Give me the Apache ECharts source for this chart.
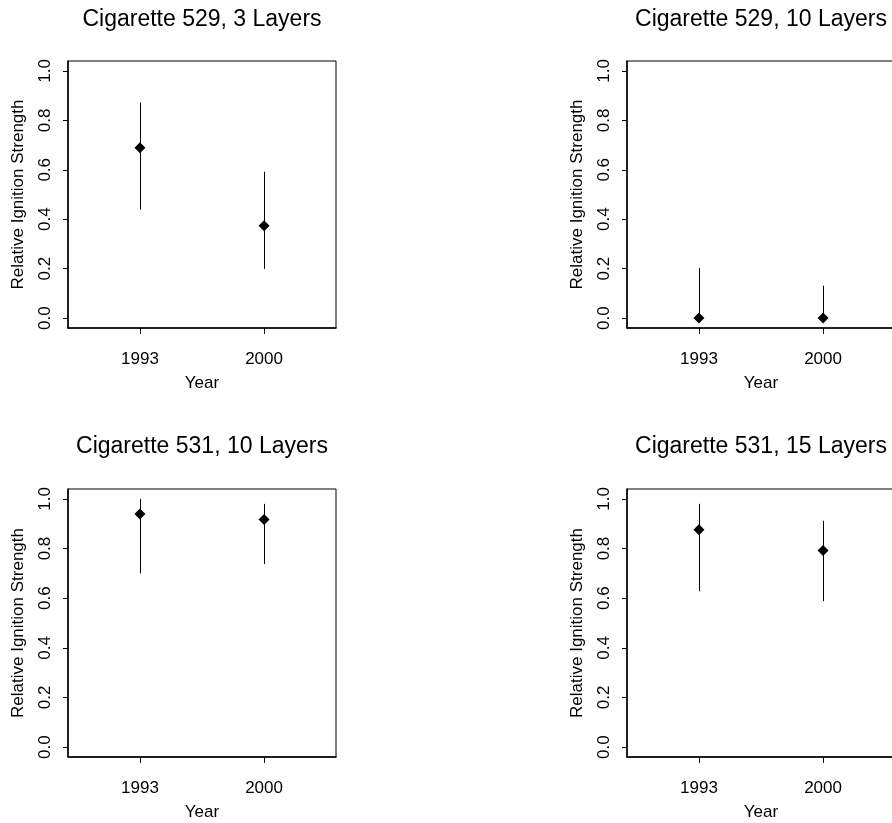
<!DOCTYPE html>
<html>
<head>
<meta charset="utf-8">
<script src="https://cdn.jsdelivr.net/npm/echarts@6/dist/echarts.min.js"></script>
<style>
html,body{margin:0;padding:0;background:#fff;}
#chart{width:892px;height:823px;}
</style>
</head>
<body>
<div id="chart"></div>
<script>
// ---- data ----
const years = ['1993', '2000'];
const yTicks = [0, 0.2, 0.4, 0.6, 0.8, 1.0];
const panelTitles = ['Cigarette 529, 3 Layers', 'Cigarette 529, 10 Layers', 'Cigarette 531, 10 Layers', 'Cigarette 531, 15 Layers'];

const est529_3 = [0.689, 0.374];
const lo529_3  = [0.439, 0.199];
const hi529_3  = [0.872, 0.592];

const est529_10 = [0.0, 0.0];
const lo529_10  = [0.0, 0.0];
const hi529_10  = [0.203, 0.131];

const est531_10 = [0.939, 0.917];
const lo531_10  = [0.700, 0.738];
const hi531_10  = [1.0, 0.980];

const est531_15 = [0.876, 0.792];
const lo531_15  = [0.628, 0.588];
const hi531_15  = [0.980, 0.912];

const panels = [
  {est: est529_3, lo: lo529_3, hi: hi529_3},
  {est: est529_10, lo: lo529_10, hi: hi529_10},
  {est: est531_10, lo: lo531_10, hi: hi531_10},
  {est: est531_15, lo: lo531_15, hi: hi531_15}
];

// ---- layout ----
const FONT = "'Liberation Sans', Arial, Helvetica, sans-serif";
const gridDefs = [
  {left: 68, top: 61, width: 268, height: 267},
  {left: 627, top: 61, width: 268, height: 267},
  {left: 68, top: 489, width: 268, height: 268},
  {left: 627, top: 489, width: 268, height: 268}
];
const titleTops = [8, 8, 435, 435];

const chart = echarts.init(document.getElementById('chart'), null, {renderer: 'canvas'});

const grids = [], xAxes = [], yAxes = [], series = [], titles = [];
gridDefs.forEach((g, i) => {
  grids.push({left: g.left, top: g.top, width: g.width, height: g.height, show: true,
    borderColor: '#000', borderWidth: 1, backgroundColor: 'transparent', containLabel: false,
    outerBoundsMode: 'none'});
  titles.push({text: panelTitles[i], left: g.left + g.width / 2, top: titleTops[i], textAlign: 'center',
    padding: 0,
    textStyle: {fontFamily: FONT, fontSize: 23, fontWeight: 'normal', color: '#000'}});
  xAxes.push({type: 'value', gridIndex: i, min: 0.42, max: 2.58,
    axisLine: {show: true, onZero: false, lineStyle: {color: '#000', width: 1.5}},
    axisTick: {show: true, length: 6, customValues: [1, 2], lineStyle: {color: '#000', width: 1}},
    axisLabel: {customValues: [1, 2], margin: 23, formatter: v => years[Math.round(v) - 1],
      fontFamily: FONT, fontSize: 17, color: '#000'},
    splitLine: {show: false},
    name: 'Year', nameLocation: 'middle', nameGap: 47,
    nameTextStyle: {fontFamily: FONT, fontSize: 17, color: '#000'}});
  yAxes.push({type: 'value', gridIndex: i, min: -0.04, max: 1.04,
    axisLine: {show: true, onZero: false, lineStyle: {color: '#000', width: 1.5}},
    axisTick: {show: true, length: 5, customValues: yTicks, lineStyle: {color: '#000', width: 1}},
    axisLabel: {customValues: yTicks, rotate: 90, margin: 14, formatter: v => v.toFixed(1),
      fontFamily: FONT, fontSize: 17, color: '#000'},
    splitLine: {show: false},
    name: 'Relative Ignition Strength', nameLocation: 'middle', nameGap: 41, nameRotate: 90,
    nameTextStyle: {fontFamily: FONT, fontSize: 17, color: '#000'}});
  const p = panels[i];
  series.push({type: 'custom', xAxisIndex: i, yAxisIndex: i,
    data: years.map((y, k) => [k + 1, p.lo[k], p.hi[k]]),
    renderItem: (params, api) => {
      const a = api.coord([api.value(0), api.value(1)]);
      const b = api.coord([api.value(0), api.value(2)]);
      const x = Math.round(a[0]) + 0.5;
      return {type: 'line', shape: {x1: x, y1: a[1], x2: x, y2: b[1]},
        style: {stroke: '#000', lineWidth: 1}};
    }, silent: true, z: 2});
  series.push({type: 'scatter', xAxisIndex: i, yAxisIndex: i, symbol: 'diamond', symbolSize: [11, 11],
    itemStyle: {color: '#000', opacity: 1}, data: years.map((y, k) => [k + 1, p.est[k]]), z: 3, silent: true});
});

chart.setOption({animation: false, backgroundColor: '#fff', title: titles, grid: grids,
  xAxis: xAxes, yAxis: yAxes, series: series});
</script>
</body>
</html>
